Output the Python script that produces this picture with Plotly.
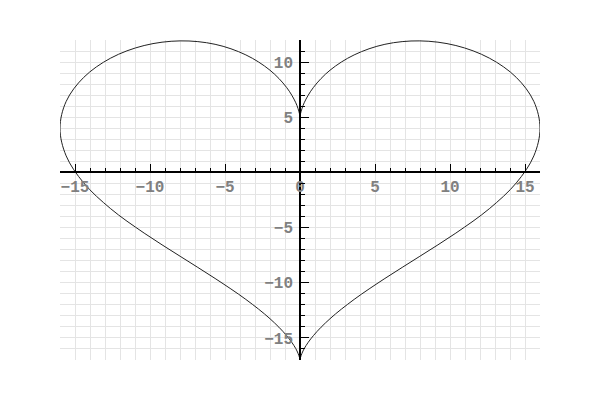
import plotly.graph_objects as go

# Heart outline points (right half, then left half)
right_x = [0, 0.04, 0.28, 0.90, 2.00, 3.61, 5.66, 7.99, 10.39, 12.62, 14.42, 15.59, 16.00,
           15.59, 14.42, 12.62, 10.39, 7.99, 5.66, 3.61, 2.00, 0.90, 0.28, 0.04, 0]
right_y = [5, 5.35, 6.31, 7.71, 9.26, 10.65, 11.61, 11.92, 11.5, 10.36, 8.61, 6.43, 4.0,
           1.50, -0.95, -3.29, -5.5, -7.60, -9.61, -11.51, -13.26, -14.78, -15.97, -16.74, -17]
left_x = [0, -0.04, -0.28, -0.90, -2.00, -3.61, -5.66, -7.99, -10.39, -12.62, -14.42, -15.59, -16.00,
          -15.59, -14.42, -12.62, -10.39, -7.99, -5.66, -3.61, -2.00, -0.90, -0.28, -0.04, 0]
left_y = [5, 5.35, 6.31, 7.71, 9.26, 10.65, 11.61, 11.92, 11.5, 10.36, 8.61, 6.43, 4.0,
          1.50, -0.95, -3.29, -5.5, -7.60, -9.61, -11.51, -13.26, -14.78, -15.97, -16.74, -17]

x_range = [-16, 16]
y_range = [-17, 12]
x_ticks = [-15, -10, -5, 0, 5, 10, 15]
y_ticks = [-15, -10, -5, 5, 10]

fig = go.Figure()
for xs, ys in [(right_x, right_y), (left_x, left_y)]:
    fig.add_trace(go.Scatter(x=xs, y=ys, mode="lines",
                             line=dict(color="#222222", width=1, shape="spline", smoothing=1.0),
                             showlegend=False, hoverinfo="skip"))

grid_color = "#e4e4e4"
font = dict(family="Liberation Mono, Courier New, monospace", size=16, color="#808080",
            weight="bold")

x_pos = (0 - y_range[0]) / (y_range[1] - y_range[0])
y_pos = (0 - x_range[0]) / (x_range[1] - x_range[0])

fig.update_layout(
    width=600, height=400,
    margin=dict(l=52, r=68, t=32, b=48),
    paper_bgcolor="white", plot_bgcolor="white",
    xaxis=dict(range=x_range, tickmode="array", tickvals=x_ticks, automargin=False,
               ticks="inside", ticklen=8, tickwidth=1, tickcolor="black",
               showgrid=True, gridcolor=grid_color, gridwidth=1,
               zeroline=False, showline=True, linecolor="black", linewidth=1.5,
               anchor="free", position=x_pos, side="bottom",
               tickfont=font, ticklabelstandoff=0,
               minor=dict(tickmode="linear", tick0=0, dtick=1, ticks="inside", ticklen=4,
                          tickcolor="black", showgrid=True, gridcolor=grid_color, gridwidth=1)),
    yaxis=dict(range=y_range, tickmode="array", tickvals=y_ticks, automargin=False,
               ticks="inside", ticklen=8, tickwidth=1, tickcolor="black",
               showgrid=True, gridcolor=grid_color, gridwidth=1,
               zeroline=False, showline=True, linecolor="black", linewidth=1.5,
               anchor="free", position=y_pos, side="left",
               tickfont=font, ticklabelstandoff=3,
               minor=dict(tickmode="linear", tick0=0, dtick=1, ticks="inside", ticklen=4,
                          tickcolor="black", showgrid=True, gridcolor=grid_color, gridwidth=1)),
)

fig.write_html("out.html")
